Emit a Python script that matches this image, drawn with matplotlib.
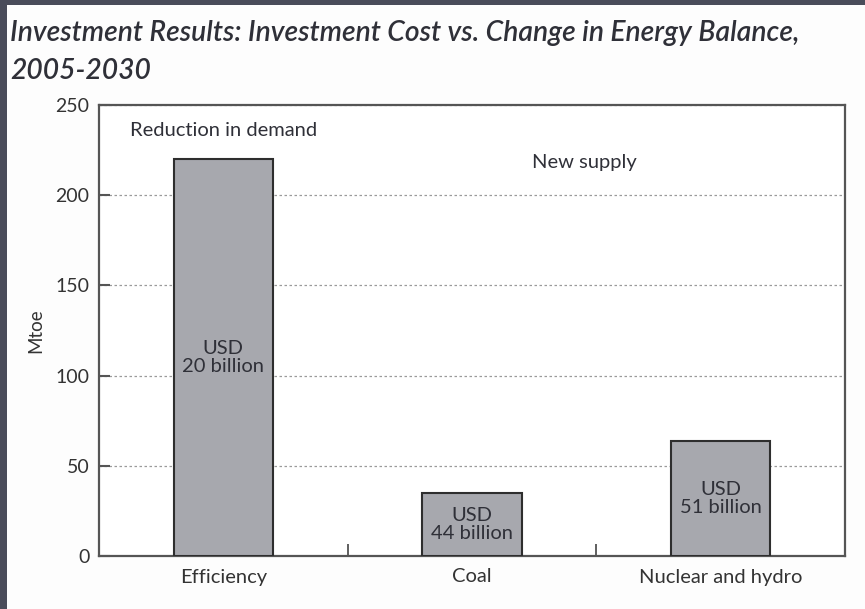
import matplotlib
matplotlib.use("Agg")
import matplotlib.pyplot as plt
from matplotlib.patches import Rectangle

categories = ["Efficiency", "Coal", "Nuclear and hydro"]
values = [220, 35, 64]
bar_labels = ["USD\n20 billion", "USD\n44 billion", "USD\n51 billion"]
yticks = [0, 50, 100, 150, 200, 250]
title = "Investment Results: Investment Cost vs. Change in Energy Balance,\n2005-2030"

plt.rcParams['font.family'] = ['Lato', 'DejaVu Sans']

fig = plt.figure(figsize=(8.65, 6.09), dpi=100)
fig.patch.set_facecolor("#fdfdfd")

# dark frame (top and left)
fig.patches.append(Rectangle((0, 1 - 5/609), 1, 5/609, transform=fig.transFigure,
                             facecolor="#4a4c5a", edgecolor="none", zorder=0))
fig.patches.append(Rectangle((0, 0), 7/865, 1, transform=fig.transFigure,
                             facecolor="#4a4c5a", edgecolor="none", zorder=0))

ax = fig.add_axes([99/865, 1 - 556/609, (845 - 99)/865, (556 - 105)/609])
ax.set_facecolor("white")

x = list(range(len(categories)))
ax.bar(x, values, width=0.4, color="#a7a8ae", edgecolor="#2e2e2e", linewidth=1.5, zorder=3)
for xi, v, lab in zip(x, values, bar_labels):
    ax.text(xi, v / 2, lab, ha="center", va="center", fontsize=14.5, color="#2f3038",
            linespacing=1.05, zorder=4)

ax.set_xlim(-0.5, 2.5)
ax.set_ylim(0, 250)
ax.set_yticks(yticks)
ax.set_yticklabels([str(t) for t in yticks], fontsize=14, color="#333333")
ax.set_xticks(x)
ax.set_xticklabels(categories, fontsize=14.5, color="#333333")
ax.tick_params(axis="x", length=0, pad=9)
ax.tick_params(axis="y", direction="in", length=8, width=1.5, color="#555555", pad=7)
ax.set_xticks([0.5, 1.5], minor=True)
ax.tick_params(axis="x", which="minor", direction="in", length=9, width=1.2, color="#444444")

ax.yaxis.grid(True, linestyle=(0, (2, 2)), color="#9a9a9a", linewidth=0.9, zorder=1)
ax.set_axisbelow(True)

for s in ax.spines.values():
    s.set_color("#555555")
    s.set_linewidth(1.6)

ax.set_ylabel("Mtoe", fontsize=13.5, color="#333333", labelpad=8)

ax.text(0, 236, "Reduction in demand", ha="center", va="center", fontsize=14.5, color="#2f3038")
ax.text(1.45, 218, "New supply", ha="center", va="center", fontsize=14.5, color="#2f3038")

fig.text(10/865, 1 - 52/609, title, ha="left", va="center", fontsize=20.3,
         style="italic", fontweight="semibold", color="#2f3038", linespacing=1.6)

fig.savefig("out.png", dpi=100, facecolor=fig.get_facecolor())
